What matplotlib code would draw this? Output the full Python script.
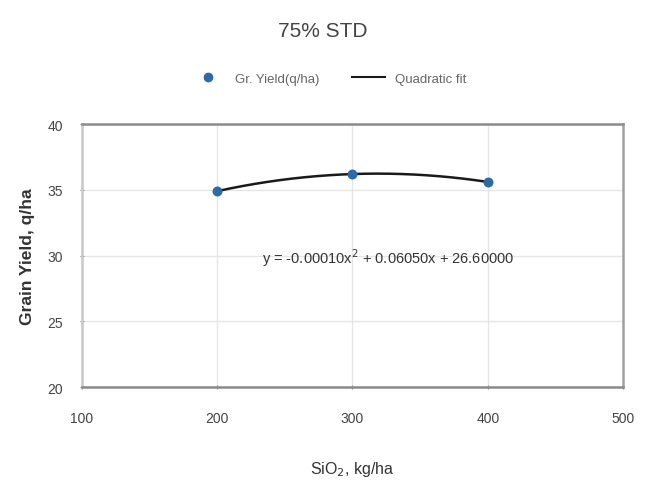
import numpy as np
import matplotlib
matplotlib.use("Agg")
import matplotlib.pyplot as plt
from matplotlib.lines import Line2D

plt.rcParams['font.family'] = ['Liberation Sans', 'DejaVu Sans']

si_dose = [200, 300, 400]
grain_yield = [34.9, 36.2, 35.6]
x_ticks = [100, 200, 300, 400, 500]
y_ticks = [20, 25, 30, 35, 40]
equation = "y = -0.00010x$^2$ + 0.06050x + 26.60000"

fig = plt.figure(figsize=(6.45, 4.81), dpi=100)
ax = fig.add_axes([0.127, 0.193, 0.839, 0.547])

coef = np.polyfit(si_dose, grain_yield, 2)
xs = np.linspace(min(si_dose), max(si_dose), 200)
ax.plot(xs, np.polyval(coef, xs), color='#1a1a1a', lw=1.8, zorder=3)
ax.scatter(si_dose, grain_yield, s=38, color='#2e6aa6', marker='o', zorder=4)

ax.set_xlim(100, 500)
ax.set_ylim(20, 40)
ax.set_xticks(x_ticks)
ax.set_yticks(y_ticks)
ax.grid(True, color='#e6e6e6', lw=1.0)
ax.set_axisbelow(True)
for side, c in [('top', '#8a8a8a'), ('bottom', '#8a8a8a'), ('left', '#c8c8c8'), ('right', '#a0a0a0')]:
    ax.spines[side].set_color(c)
    ax.spines[side].set_linewidth(1.8)
ax.tick_params(axis='both', colors='#888888', labelcolor='#444444', labelsize=10, length=3, direction='inout')
ax.tick_params(axis='x', pad=16)
ax.tick_params(axis='y', pad=12)

ax.text(326, 29.9, equation, ha='center', va='center', fontsize=10.5, color='#333333')

ax.set_xlabel("SiO$_2$, kg/ha", fontsize=11.5, color='#333333', labelpad=24)
ax.set_ylabel("Grain Yield, q/ha", fontsize=12.5, color='#333333', fontweight='bold', labelpad=9)

fig.text(0.50, 0.935, "75% STD", ha='center', va='center', fontsize=15, color='#444444')

handles = [Line2D([], [], marker='o', color='#2e6aa6', ls='none', markersize=6),
           Line2D([], [], color='#1a1a1a', lw=1.5)]
fig.legend(handles, ["Gr. Yield(q/ha)", "Quadratic fit"], loc='center', bbox_to_anchor=(0.51, 0.834),
           ncol=2, frameon=False, fontsize=9.5, labelcolor='#666666', handlelength=2.5, columnspacing=2.5)

fig.savefig("out.png", dpi=100, facecolor='white')
